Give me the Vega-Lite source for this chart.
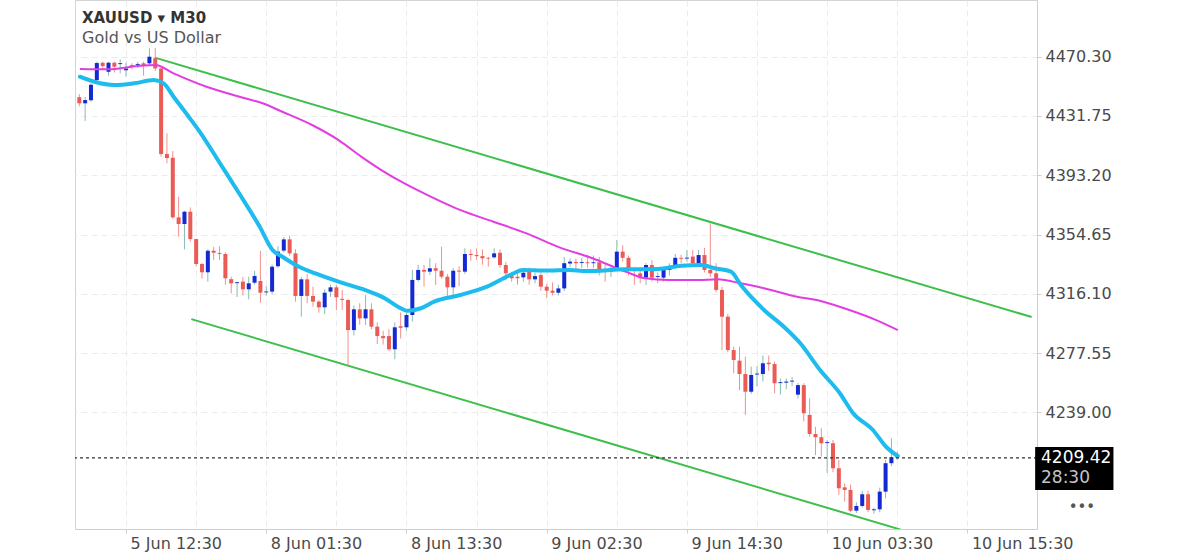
{
  "$schema": "https://vega.github.io/schema/vega-lite/v6.json",
  "width": 962,
  "height": 529,
  "autosize": "none",
  "padding": {"left": 75, "top": 0, "right": 163, "bottom": 25},
  "background": "white",
  "view": {"stroke": "#d4d4d4", "strokeWidth": 1},
  "title": {
    "text": "XAUUSD \u25be M30",
    "subtitle": "Gold vs US Dollar",
    "anchor": "start",
    "frame": "group",
    "orient": "top",
    "offset": -46,
    "dx": 7,
    "font": "DejaVu Sans",
    "fontSize": 15,
    "fontWeight": "bold",
    "color": "#333333",
    "subtitleFont": "DejaVu Sans",
    "subtitleFontSize": 16,
    "subtitleColor": "#555555",
    "subtitlePadding": 4
  },
  "config": {
    "font": "DejaVu Sans",
    "axis": {"labelFont": "DejaVu Sans", "labelFontSize": 16, "labelColor": "#4a4a4a", "domainColor": "#cfcfcf", "tickColor": "#cfcfcf"}
  },
  "datasets": {
    "candles": [
      {"i": -8, "o": 4444, "h": 4446, "l": 4438, "c": 4440},
      {"i": -7, "o": 4440, "h": 4444.1, "l": 4428.5, "c": 4442.1},
      {"i": -6, "o": 4442, "h": 4453, "l": 4441, "c": 4452},
      {"i": -5, "o": 4455.1, "h": 4467, "l": 4454, "c": 4466.2},
      {"i": -4, "o": 4466.4, "h": 4467, "l": 4462, "c": 4464.2},
      {"i": -3, "o": 4460.5, "h": 4467, "l": 4458, "c": 4466.4},
      {"i": -2, "o": 4466.4, "h": 4467, "l": 4460, "c": 4463.8},
      {"i": -1, "o": 4465.5, "h": 4468.6, "l": 4459.5, "c": 4466.1},
      {"i": 0, "o": 4461.5, "h": 4466.4, "l": 4457.3, "c": 4462.6},
      {"i": 1, "o": 4464.9, "h": 4466, "l": 4462, "c": 4464.3},
      {"i": 2, "o": 4465.0, "h": 4467, "l": 4463, "c": 4465.6},
      {"i": 3, "o": 4466, "h": 4467, "l": 4458, "c": 4464.9},
      {"i": 4, "o": 4466, "h": 4475.8, "l": 4465, "c": 4470.3},
      {"i": 5, "o": 4469.3, "h": 4476, "l": 4461, "c": 4462.7},
      {"i": 6, "o": 4462.7, "h": 4463, "l": 4405.3, "c": 4407},
      {"i": 7, "o": 4407, "h": 4420.5, "l": 4401, "c": 4404.4},
      {"i": 8, "o": 4404.6, "h": 4409, "l": 4365, "c": 4365.8},
      {"i": 9, "o": 4365.8, "h": 4379.2, "l": 4353.2, "c": 4361.5},
      {"i": 10, "o": 4361.5, "h": 4370, "l": 4345, "c": 4369.5},
      {"i": 11, "o": 4369.5, "h": 4372.3, "l": 4350, "c": 4351.7},
      {"i": 12, "o": 4351.7, "h": 4352, "l": 4334, "c": 4335.5},
      {"i": 13, "o": 4335.5, "h": 4336, "l": 4326, "c": 4330.1},
      {"i": 14, "o": 4330.1, "h": 4345, "l": 4324, "c": 4344.1},
      {"i": 15, "o": 4344.1, "h": 4346.7, "l": 4338.1, "c": 4342.8},
      {"i": 16, "o": 4342.6, "h": 4347, "l": 4338, "c": 4342},
      {"i": 17, "o": 4342, "h": 4343, "l": 4322, "c": 4326.2},
      {"i": 18, "o": 4325.6, "h": 4327.2, "l": 4316.4, "c": 4322.9},
      {"i": 19, "o": 4323.0, "h": 4324, "l": 4314, "c": 4323.6},
      {"i": 20, "o": 4324, "h": 4327, "l": 4315, "c": 4319},
      {"i": 21, "o": 4319, "h": 4327.2, "l": 4312.5, "c": 4322.9},
      {"i": 22, "o": 4323.3, "h": 4331, "l": 4322, "c": 4327.7},
      {"i": 23, "o": 4324.4, "h": 4344.1, "l": 4310.3, "c": 4316.8},
      {"i": 24, "o": 4317, "h": 4321, "l": 4315, "c": 4317.6},
      {"i": 25, "o": 4317.5, "h": 4335, "l": 4316, "c": 4333.7},
      {"i": 26, "o": 4334, "h": 4347, "l": 4333, "c": 4343.5},
      {"i": 27, "o": 4344.2, "h": 4353, "l": 4343, "c": 4351.5},
      {"i": 28, "o": 4351.5, "h": 4354, "l": 4341, "c": 4342.4},
      {"i": 29, "o": 4342.4, "h": 4345, "l": 4311, "c": 4314.7},
      {"i": 30, "o": 4314.7, "h": 4327, "l": 4301.2, "c": 4325.5},
      {"i": 31, "o": 4325.5, "h": 4329, "l": 4310, "c": 4314.7},
      {"i": 32, "o": 4314.7, "h": 4320.7, "l": 4307.7, "c": 4311},
      {"i": 33, "o": 4311, "h": 4312, "l": 4303.8, "c": 4307.3},
      {"i": 34, "o": 4307.3, "h": 4319, "l": 4303, "c": 4316.8},
      {"i": 35, "o": 4317.5, "h": 4322, "l": 4314, "c": 4320.3},
      {"i": 36, "o": 4320.3, "h": 4321.8, "l": 4305.6, "c": 4313.8},
      {"i": 37, "o": 4312.8, "h": 4318.6, "l": 4305.6, "c": 4312.1},
      {"i": 38, "o": 4312.1, "h": 4312.5, "l": 4269.8, "c": 4292.5},
      {"i": 39, "o": 4292.5, "h": 4308.5, "l": 4289, "c": 4306},
      {"i": 40, "o": 4306, "h": 4310, "l": 4296, "c": 4300.1},
      {"i": 41, "o": 4300.1, "h": 4315.3, "l": 4295.8, "c": 4306},
      {"i": 42, "o": 4306, "h": 4310, "l": 4293, "c": 4294.7},
      {"i": 43, "o": 4294.7, "h": 4297.5, "l": 4283.4, "c": 4288.6},
      {"i": 44, "o": 4288.6, "h": 4292, "l": 4283, "c": 4287.2},
      {"i": 45, "o": 4288.6, "h": 4293, "l": 4278.8, "c": 4280},
      {"i": 46, "o": 4280, "h": 4297.5, "l": 4273.5, "c": 4294.3},
      {"i": 47, "o": 4295, "h": 4304, "l": 4287, "c": 4294},
      {"i": 48, "o": 4294.3, "h": 4304, "l": 4292, "c": 4302.3},
      {"i": 49, "o": 4302.3, "h": 4331.6, "l": 4298, "c": 4325.1},
      {"i": 50, "o": 4325.1, "h": 4335, "l": 4324, "c": 4331.6},
      {"i": 51, "o": 4331.6, "h": 4334.8, "l": 4320.7, "c": 4330.5},
      {"i": 52, "o": 4330.5, "h": 4339.2, "l": 4328.3, "c": 4332.7},
      {"i": 53, "o": 4332.7, "h": 4336, "l": 4321.8, "c": 4331.1},
      {"i": 54, "o": 4331.1, "h": 4346.7, "l": 4326, "c": 4327.2},
      {"i": 55, "o": 4327.2, "h": 4329, "l": 4314, "c": 4320.3},
      {"i": 56, "o": 4320.3, "h": 4332.7, "l": 4315.3, "c": 4331.1},
      {"i": 57, "o": 4331.2, "h": 4334, "l": 4321, "c": 4330.5},
      {"i": 58, "o": 4330.5, "h": 4345.7, "l": 4329, "c": 4342},
      {"i": 59, "o": 4342, "h": 4345, "l": 4337.5, "c": 4341.3},
      {"i": 60, "o": 4341.3, "h": 4345.7, "l": 4338.1, "c": 4340.6},
      {"i": 61, "o": 4340.6, "h": 4345, "l": 4335, "c": 4339.2},
      {"i": 62, "o": 4339.5, "h": 4340, "l": 4333.7, "c": 4339},
      {"i": 63, "o": 4339.8, "h": 4345.7, "l": 4339, "c": 4342.4},
      {"i": 64, "o": 4342.8, "h": 4345, "l": 4333, "c": 4334.8},
      {"i": 65, "o": 4334.8, "h": 4336.7, "l": 4325, "c": 4329.4},
      {"i": 66, "o": 4327.6, "h": 4330, "l": 4324, "c": 4326.2},
      {"i": 67, "o": 4327.2, "h": 4330, "l": 4322, "c": 4326.2},
      {"i": 68, "o": 4326.8, "h": 4332, "l": 4324, "c": 4329.8},
      {"i": 69, "o": 4331.1, "h": 4333, "l": 4322, "c": 4325.5},
      {"i": 70, "o": 4325.5, "h": 4330, "l": 4323, "c": 4327.6},
      {"i": 71, "o": 4328.3, "h": 4330, "l": 4318, "c": 4320.7},
      {"i": 72, "o": 4320.7, "h": 4322.5, "l": 4313.2, "c": 4318.1},
      {"i": 73, "o": 4318.1, "h": 4323.5, "l": 4315, "c": 4316.8},
      {"i": 74, "o": 4316.8, "h": 4322, "l": 4315, "c": 4319.6},
      {"i": 75, "o": 4319.6, "h": 4340, "l": 4318, "c": 4336},
      {"i": 76, "o": 4335.8, "h": 4339, "l": 4333.7, "c": 4337},
      {"i": 77, "o": 4336.8, "h": 4339, "l": 4331, "c": 4336},
      {"i": 78, "o": 4336.2, "h": 4339.5, "l": 4333, "c": 4336.8},
      {"i": 79, "o": 4336.6, "h": 4341.5, "l": 4333, "c": 4336},
      {"i": 80, "o": 4336, "h": 4341, "l": 4333, "c": 4336.6},
      {"i": 81, "o": 4336.6, "h": 4340, "l": 4328, "c": 4331.6},
      {"i": 82, "o": 4331.6, "h": 4335, "l": 4324, "c": 4330.9},
      {"i": 83, "o": 4330.5, "h": 4334, "l": 4327, "c": 4332.9},
      {"i": 84, "o": 4332.9, "h": 4351.1, "l": 4332.7, "c": 4343.5},
      {"i": 85, "o": 4343.5, "h": 4347.7, "l": 4337, "c": 4339.5},
      {"i": 86, "o": 4339.5, "h": 4341, "l": 4328, "c": 4332.2},
      {"i": 87, "o": 4332, "h": 4333, "l": 4322, "c": 4331.3},
      {"i": 88, "o": 4329.4, "h": 4331.6, "l": 4323, "c": 4326.2},
      {"i": 89, "o": 4326.6, "h": 4336, "l": 4321.8, "c": 4334.8},
      {"i": 90, "o": 4334.8, "h": 4338, "l": 4324, "c": 4326.6},
      {"i": 91, "o": 4327, "h": 4330, "l": 4323, "c": 4327.6},
      {"i": 92, "o": 4326.6, "h": 4333.7, "l": 4324, "c": 4331.6},
      {"i": 93, "o": 4331.6, "h": 4336, "l": 4328, "c": 4332.5},
      {"i": 94, "o": 4334.8, "h": 4342, "l": 4333, "c": 4339.5},
      {"i": 95, "o": 4339.5, "h": 4341.5, "l": 4336, "c": 4338.9},
      {"i": 96, "o": 4339, "h": 4344.6, "l": 4337, "c": 4339.6},
      {"i": 97, "o": 4340.3, "h": 4344.6, "l": 4334, "c": 4336},
      {"i": 98, "o": 4336, "h": 4344.6, "l": 4334, "c": 4341.3},
      {"i": 99, "o": 4341.3, "h": 4345.9, "l": 4330, "c": 4331.6},
      {"i": 100, "o": 4331.6, "h": 4362, "l": 4327, "c": 4329.4},
      {"i": 101, "o": 4329.4, "h": 4336, "l": 4317, "c": 4318.6},
      {"i": 102, "o": 4318.6, "h": 4320.7, "l": 4279.5, "c": 4301.2},
      {"i": 103, "o": 4301.2, "h": 4303, "l": 4278, "c": 4279.5},
      {"i": 104, "o": 4279.5, "h": 4281.7, "l": 4264.4, "c": 4273},
      {"i": 105, "o": 4272.6, "h": 4281.7, "l": 4253.5, "c": 4263.9},
      {"i": 106, "o": 4263.9, "h": 4275.2, "l": 4237.3, "c": 4252.4},
      {"i": 107, "o": 4252.4, "h": 4268.7, "l": 4251, "c": 4263.3},
      {"i": 108, "o": 4263.6, "h": 4269, "l": 4256, "c": 4264.2},
      {"i": 109, "o": 4263.9, "h": 4275.9, "l": 4259, "c": 4270.9},
      {"i": 110, "o": 4271.3, "h": 4276, "l": 4266, "c": 4270.3},
      {"i": 111, "o": 4270.4, "h": 4271.9, "l": 4251.4, "c": 4257.9},
      {"i": 112, "o": 4258, "h": 4261, "l": 4250.5, "c": 4258.6},
      {"i": 113, "o": 4258.3, "h": 4261, "l": 4254, "c": 4259},
      {"i": 114, "o": 4259, "h": 4262, "l": 4256, "c": 4259.6},
      {"i": 115, "o": 4250.5, "h": 4258, "l": 4248, "c": 4256.7},
      {"i": 116, "o": 4256.7, "h": 4257.9, "l": 4233, "c": 4238.4},
      {"i": 117, "o": 4237.3, "h": 4248.1, "l": 4223.2, "c": 4224.9},
      {"i": 118, "o": 4224.9, "h": 4229.6, "l": 4211.2, "c": 4222.8},
      {"i": 119, "o": 4222.8, "h": 4228.6, "l": 4210.2, "c": 4218.9},
      {"i": 120, "o": 4219, "h": 4221, "l": 4199.5, "c": 4219.6},
      {"i": 121, "o": 4218.9, "h": 4221, "l": 4200, "c": 4202.6},
      {"i": 122, "o": 4202.6, "h": 4208, "l": 4185.2, "c": 4189.6},
      {"i": 123, "o": 4190.2, "h": 4192.8, "l": 4180.9, "c": 4188.5},
      {"i": 124, "o": 4188.5, "h": 4192, "l": 4174, "c": 4175},
      {"i": 125, "o": 4175, "h": 4180.5, "l": 4173.5, "c": 4178.1},
      {"i": 126, "o": 4178.1, "h": 4188, "l": 4177, "c": 4185.7},
      {"i": 127, "o": 4185.7, "h": 4188, "l": 4174, "c": 4175.5},
      {"i": 128, "o": 4175.3, "h": 4177, "l": 4173, "c": 4175.9},
      {"i": 129, "o": 4175.9, "h": 4190, "l": 4174, "c": 4187.4},
      {"i": 130, "o": 4187.4, "h": 4208, "l": 4183, "c": 4205.9},
      {"i": 131, "o": 4205.9, "h": 4222.1, "l": 4204, "c": 4209.8},
      {"i": 132, "o": 4211.7, "h": 4213.5, "l": 4208, "c": 4209.42}
    ],
    "ema": [
      {"i": -7.9, "p": 4457.3}, {"i": -5.42, "p": 4454.0}, {"i": -2.03, "p": 4451.9}, {"i": 1.36, "p": 4453.0},
      {"i": 4.74, "p": 4455.1}, {"i": 6.44, "p": 4453.0}, {"i": 8.13, "p": 4444.3}, {"i": 10.38, "p": 4433.0},
      {"i": 12.65, "p": 4421.3}, {"i": 16.04, "p": 4401.2}, {"i": 19.43, "p": 4381.0}, {"i": 22.81, "p": 4360.2},
      {"i": 25.07, "p": 4344.6}, {"i": 26.76, "p": 4340.2}, {"i": 29.59, "p": 4333.7}, {"i": 32.4, "p": 4329.4},
      {"i": 36.37, "p": 4324.0}, {"i": 40.87, "p": 4318.6}, {"i": 44.26, "p": 4313.2}, {"i": 46.53, "p": 4307.7},
      {"i": 48.22, "p": 4305.1}, {"i": 50.47, "p": 4306.7}, {"i": 52.73, "p": 4311.0}, {"i": 57.25, "p": 4315.3},
      {"i": 61.77, "p": 4320.7}, {"i": 65.72, "p": 4328.3}, {"i": 67.97, "p": 4331.6}, {"i": 71.93, "p": 4331.2},
      {"i": 75.88, "p": 4331.6}, {"i": 78.71, "p": 4330.9}, {"i": 85.48, "p": 4332.0}, {"i": 91.06, "p": 4332.2},
      {"i": 95.07, "p": 4334.4}, {"i": 98.46, "p": 4334.8}, {"i": 100.73, "p": 4332.7}, {"i": 103.54, "p": 4330.5},
      {"i": 105.23, "p": 4321.8}, {"i": 109.2, "p": 4305.6}, {"i": 112.58, "p": 4294.7}, {"i": 115.4, "p": 4283.9},
      {"i": 118.78, "p": 4266.5}, {"i": 122.17, "p": 4251.4}, {"i": 124.44, "p": 4238.4}, {"i": 127.83, "p": 4227.5},
      {"i": 130.08, "p": 4216.6}, {"i": 132.06, "p": 4210.6}
    ],
    "sma": [
      {"i": -7.9, "p": 4462.3}, {"i": -3.17, "p": 4462.1}, {"i": 2.49, "p": 4464.4}, {"i": 5.03, "p": 4464.9},
      {"i": 8.13, "p": 4459.5}, {"i": 13.77, "p": 4450.8}, {"i": 19.43, "p": 4444.3}, {"i": 23.37, "p": 4440.0},
      {"i": 26.76, "p": 4434.5}, {"i": 31.84, "p": 4425.9}, {"i": 36.37, "p": 4416.1}, {"i": 40.31, "p": 4405.2},
      {"i": 43.7, "p": 4396.6}, {"i": 47.65, "p": 4387.9}, {"i": 51.61, "p": 4380.3}, {"i": 57.25, "p": 4370.5},
      {"i": 62.89, "p": 4363.0}, {"i": 68.55, "p": 4355.4}, {"i": 74.19, "p": 4346.3}, {"i": 79.83, "p": 4339.2},
      {"i": 85.48, "p": 4330.5}, {"i": 88.87, "p": 4326.2}, {"i": 92.82, "p": 4325.1}, {"i": 97.9, "p": 4325.1},
      {"i": 101.29, "p": 4325.5}, {"i": 105.23, "p": 4322.9}, {"i": 109.2, "p": 4319.7}, {"i": 114.84, "p": 4314.2},
      {"i": 118.23, "p": 4312.1}, {"i": 123.3, "p": 4306.2}, {"i": 128.4, "p": 4299.0}, {"i": 132.1, "p": 4292.5}
    ],
    "channel": [
      {"line": "upper", "i": 4.92, "p": 4469.7},
      {"line": "upper", "i": 155.0, "p": 4301.0},
      {"line": "lower", "i": 11.18, "p": 4299.6},
      {"line": "lower", "i": 132.6, "p": 4162.7}
    ],
    "last": [{"p": 4209.42, "price": "4209.42", "timer": "28:30"}]
  },
  "encoding": {
    "x": {
      "type": "quantitative",
      "scale": {"domain": [-7.88, 155.06], "nice": false, "zero": false},
      "axis": {
        "title": null,
        "values": [0, 12, 24, 36, 48, 60, 72, 84, 96, 108, 120, 132, 144],
        "labelExpr": "datum.value == 0 ? '5 Jun 12:30' : datum.value == 24 ? '8 Jun 01:30' : datum.value == 48 ? '8 Jun 13:30' : datum.value == 72 ? '9 Jun 02:30' : datum.value == 96 ? '9 Jun 14:30' : datum.value == 120 ? '10 Jun 03:30' : datum.value == 144 ? '10 Jun 15:30' : ''",
        "labelAlign": "left",
        "labelOffset": 4,
        "labelBaseline": "alphabetic",
        "labelPadding": 15,
        "labelOverlap": false,
        "labelFlush": false,
        "labelBound": false,
        "tickSize": 4,
        "tickColor": {"condition": {"test": "datum.value % 24 === 0", "value": "#cfcfcf"}, "value": "transparent"},
        "grid": true,
        "gridColor": "#ececec",
        "gridDash": [6, 4],
        "domainColor": "#cfcfcf"
      }
    },
    "y": {
      "type": "quantitative",
      "scale": {"domain": [4163.1, 4507.2], "nice": false, "zero": false},
      "axis": {
        "title": null,
        "orient": "right",
        "values": [4239.0, 4277.55, 4316.1, 4354.65, 4393.2, 4431.75, 4470.3],
        "format": ".2f",
        "labelPadding": 4,
        "tickSize": 4,
        "grid": true,
        "gridColor": "#ececec",
        "gridDash": [6, 4],
        "domainColor": "#cfcfcf"
      }
    }
  },
  "layer": [
    {
      "data": {"name": "channel"},
      "mark": {"type": "line", "clip": true, "color": "#3dbf4b", "strokeWidth": 2},
      "encoding": {"x": {"field": "i"}, "y": {"field": "p"}, "detail": {"field": "line"}}
    },
    {
      "data": {"name": "candles"},
      "mark": {"type": "rule", "strokeWidth": 1, "clip": true},
      "encoding": {
        "x": {"field": "i"},
        "y": {"field": "l"},
        "y2": {"field": "h"},
        "color": {"condition": {"test": "datum.c >= datum.o", "value": "#86bcb4"}, "value": "#f0918c"}
      }
    },
    {
      "data": {"name": "candles"},
      "mark": {"type": "bar", "size": 4, "clip": true},
      "encoding": {
        "x": {"field": "i"},
        "y": {"field": "o"},
        "y2": {"field": "c"},
        "color": {"condition": {"test": "datum.c >= datum.o", "value": "#1428d4"}, "value": "#ea5b56"}
      }
    },
    {
      "data": {"name": "sma"},
      "mark": {"type": "line", "clip": true, "color": "#e03ee0", "strokeWidth": 2, "interpolate": "monotone"},
      "encoding": {"x": {"field": "i"}, "y": {"field": "p"}}
    },
    {
      "data": {"name": "ema"},
      "mark": {"type": "line", "clip": true, "color": "#1dbbee", "strokeWidth": 4, "interpolate": "monotone", "strokeCap": "round"},
      "encoding": {"x": {"field": "i"}, "y": {"field": "p"}}
    },
    {
      "data": {"name": "last"},
      "mark": {"type": "rule", "color": "#333333", "strokeWidth": 1.2, "strokeDash": [3, 3]},
      "encoding": {"y": {"field": "p"}}
    },
    {
      "data": {"name": "last"},
      "mark": {"type": "rect", "color": "#000000"},
      "encoding": {
        "x": {"datum": 155.6},
        "x2": {"datum": 169.0},
        "y": {"datum": 4216.4},
        "y2": {"datum": 4188.5}
      }
    },
    {
      "data": {"name": "last"},
      "mark": {"type": "text", "align": "left", "baseline": "middle", "font": "DejaVu Sans", "fontSize": 17, "color": "#ffffff"},
      "encoding": {"x": {"datum": 156.6}, "y": {"field": "p"}, "text": {"field": "price"}}
    },
    {
      "data": {"name": "last"},
      "mark": {"type": "text", "align": "left", "baseline": "middle", "font": "DejaVu Sans", "fontSize": 17, "color": "#c4c4c4"},
      "encoding": {"x": {"datum": 156.6}, "y": {"datum": 4196.3}, "text": {"field": "timer"}}
    },
    {
      "data": {"values": [{"t": "\u2022\u2022\u2022"}]},
      "mark": {"type": "text", "align": "center", "baseline": "middle", "font": "DejaVu Sans", "fontSize": 15, "color": "#555555"},
      "encoding": {"x": {"datum": 163.6}, "y": {"datum": 4177.6}, "text": {"field": "t"}}
    }
  ]
}
